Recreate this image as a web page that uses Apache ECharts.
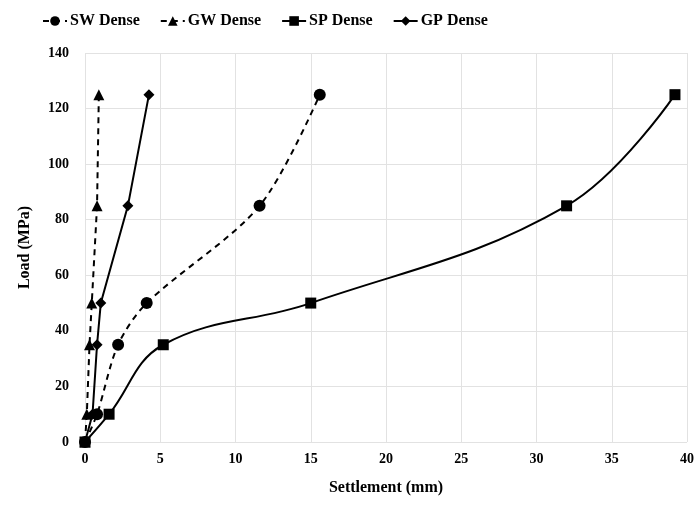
<!DOCTYPE html>
<html>
<head>
<meta charset="utf-8">
<script src="https://cdn.jsdelivr.net/npm/echarts@6/dist/echarts.min.js"></script>
<style>
  html, body { margin: 0; padding: 0; background: #fff; }
  #chart { width: 700px; height: 508px; }
</style>
</head>
<body>
<div id="chart"></div>
<script>
// load steps (MPa)
const loads = [0, 10, 35, 50, 85, 125];
// settlement (mm) per series
const swDense = [0, 0.8, 2.2, 4.1, 11.6, 15.6];
const gwDense = [0, 0.12, 0.3, 0.45, 0.8, 0.92];
const spDense = [0, 1.6, 5.2, 15, 32, 39.2];
const gpDense = [0, 0.5, 0.8, 1.05, 2.85, 4.25];

const font = 'Liberation Serif, Times New Roman, serif';

function pairs(xs) {
    return xs.map((x, i) => [x, loads[i]]);
}

function line(name, xs, symbol, size, dashed, smooth) {
    return {
        name: name,
        type: 'line',
        data: pairs(xs),
        smooth: smooth,
        symbol: symbol,
        symbolSize: size,
        itemStyle: { color: '#000' },
        lineStyle: { color: '#000', width: 2, type: dashed ? [6, 5] : 'solid' }
    };
}

let chart = echarts.init(document.getElementById('chart'));
chart.setOption({
    animation: false,
    textStyle: { fontFamily: font },
    legend: {
        top: 8,
        left: 37,
        itemGap: 20,
        itemWidth: 24,
        itemHeight: 12,
        textStyle: { fontFamily: font, fontWeight: 'bold', fontSize: 16, color: '#000', padding: [0, 0, 0, -2] },
        data: ['SW Dense', 'GW Dense', 'SP Dense', 'GP Dense']
    },
    grid: { left: 85, right: 13, top: 53, bottom: 66 },
    xAxis: {
        type: 'value',
        min: 0,
        max: 40,
        interval: 5,
        name: 'Settlement (mm)',
        nameLocation: 'middle',
        nameGap: 38,
        nameTextStyle: { fontFamily: font, fontWeight: 'bold', fontSize: 16, color: '#000' },
        axisLine: { show: false },
        axisTick: { show: false },
        axisLabel: { fontFamily: font, fontWeight: 'bold', fontSize: 14, color: '#000', margin: 10 },
        splitLine: { lineStyle: { color: '#e2e2e2' } }
    },
    yAxis: {
        type: 'value',
        min: 0,
        max: 140,
        interval: 20,
        name: 'Load (MPa)',
        nameLocation: 'middle',
        nameGap: 52,
        nameTextStyle: { fontFamily: font, fontWeight: 'bold', fontSize: 16, color: '#000' },
        axisLine: { show: false },
        axisTick: { show: false },
        axisLabel: { fontFamily: font, fontWeight: 'bold', fontSize: 14, color: '#000', margin: 16 },
        splitLine: { lineStyle: { color: '#e2e2e2' } }
    },
    series: [
        line('SW Dense', swDense, 'circle', 12, true, 0.3),
        line('GW Dense', gwDense, 'triangle', 11, true, false),
        line('SP Dense', spDense, 'rect', 11, false, 0.4),
        line('GP Dense', gpDense, 'diamond', 11, false, false)
    ]
});
</script>
</body>
</html>
